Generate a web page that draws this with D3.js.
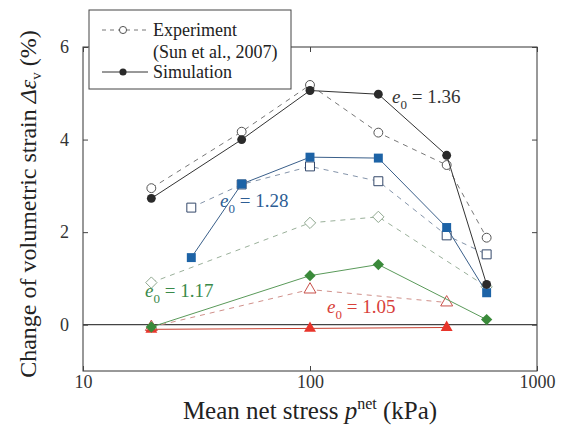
<!DOCTYPE html>
<html>
<head>
<meta charset="utf-8">
<script src="https://cdn.jsdelivr.net/npm/d3@7"></script>
<style>
  body { margin: 0; background: #fff; }
</style>
</head>
<body>
<svg id="chart" width="568" height="428"></svg>
<script>
// e0 = 1.36
const p136 = [20, 50, 100, 200, 400, 600];
const exp136 = [2.95, 4.17, 5.18, 4.15, 3.45, 1.88];
const sim136 = [2.73, 4.0, 5.06, 4.98, 3.66, 0.87];
// e0 = 1.28
const p128 = [30, 50, 100, 200, 400, 600];
const exp128 = [2.53, 3.03, 3.42, 3.1, 1.93, 1.52];
const sim128 = [1.45, 3.04, 3.62, 3.6, 2.1, 0.69];
// e0 = 1.17
const p117 = [20, 100, 200, 600];
const exp117 = [0.91, 2.2, 2.33, 0.82];
const sim117 = [-0.05, 1.06, 1.3, 0.11];
// e0 = 1.05
const p105 = [20, 100, 400];
const exp105 = [-0.05, 0.76, 0.48];
const sim105 = [-0.1, -0.08, -0.06];

const xTicks = [10, 100, 1000];
const yTicks = [0, 2, 4, 6];

const FONT = "'Liberation Serif', 'Times New Roman', serif";

// diamond = square turned 45 degrees
const diamond = {
  draw(ctx, size) {
    const r = Math.sqrt(size / 2);
    ctx.moveTo(0, -r); ctx.lineTo(r, 0); ctx.lineTo(0, r); ctx.lineTo(-r, 0); ctx.closePath();
  },
};

const SERIES = [
  { p: p136, exp: exp136, sim: sim136, shape: d3.symbolCircle, size: 62,
    fill: "#2a2a2a", line: "#333", expLine: "#777", open: "#555",
    label: "1.36", lx: 392, ly: 103, lc: "#333" },
  { p: p128, exp: exp128, sim: sim128, shape: d3.symbolSquare, size: 80,
    fill: "#1d63a6", line: "#3a5f8a", expLine: "#8494aa", open: "#34486a",
    label: "1.28", lx: 220, ly: 207, lc: "#2d5d94" },
  { p: p117, exp: exp117, sim: sim117, shape: diamond, size: 64,
    fill: "#3a8a3a", line: "#5a9a5a", expLine: "#9ab09a", open: "#90a890",
    label: "1.17", lx: 145, ly: 297, lc: "#3a8a4a" },
  { p: p105, exp: exp105, sim: sim105, shape: d3.symbolTriangle, size: 62,
    fill: "#e8352b", line: "#c84030", expLine: "#d0908a", open: "#c8504a",
    label: "1.05", lx: 327, ly: 313, lc: "#d8403a" },
];

const svg = d3.select("#chart").attr("font-family", FONT);
const margin = { left: 83, right: 31, top: 47, bottom: 57 };
const W = 568, H = 428;

const x = d3.scaleLog().domain([10, 1000]).range([margin.left, W - margin.right]);
const y = d3.scaleLinear().domain([-1, 6]).range([H - margin.bottom, margin.top]);

// frame
svg.append("rect")
  .attr("x", x(10)).attr("y", y(6))
  .attr("width", x(1000) - x(10)).attr("height", y(-1) - y(6))
  .attr("fill", "none").attr("stroke", "#333").attr("stroke-width", 1);

// zero line
svg.append("line")
  .attr("x1", x(10)).attr("x2", x(1000)).attr("y1", y(0)).attr("y2", y(0))
  .attr("stroke", "#444").attr("stroke-width", 1.2);

const tickStyle = (g) => {
  g.attr("font-family", FONT);
  g.select(".domain").remove();
  g.selectAll(".tick line").attr("stroke", "#444");
  g.selectAll(".tick text").attr("fill", "#333").attr("font-size", 18);
};

svg.append("g").attr("transform", `translate(0,${y(-1)})`)
  .call(d3.axisBottom(x).tickValues(xTicks).tickFormat(d3.format("d")).tickSizeInner(-5).tickPadding(4))
  .call(tickStyle);
svg.append("g").attr("transform", `translate(0,${y(6)})`)
  .call(d3.axisTop(x).tickValues(xTicks).tickFormat("").tickSizeInner(-5))
  .call(tickStyle);
svg.append("g").attr("transform", `translate(${x(10)},0)`)
  .call(d3.axisLeft(y).tickValues(yTicks).tickFormat(d3.format("d")).tickSizeInner(-5).tickPadding(14))
  .call(tickStyle);
svg.append("g").attr("transform", `translate(${x(1000)},0)`)
  .call(d3.axisRight(y).tickValues(yTicks).tickFormat("").tickSizeInner(-5))
  .call(tickStyle);

const line = d3.line().x((d) => x(d[0])).y((d) => y(d[1]));
const sym = (s, size) => d3.symbol().type(s).size(size)();

// experiments
SERIES.forEach((s) => {
  const pts = s.p.map((p, i) => [p, s.exp[i]]);
  svg.append("path").attr("d", line(pts)).attr("fill", "none")
    .attr("stroke", s.expLine).attr("stroke-width", 1).attr("stroke-dasharray", "5,5");
  svg.selectAll(null).data(pts).join("path")
    .attr("d", sym(s.shape, s.size))
    .attr("transform", (d) => `translate(${x(d[0])},${y(d[1])})`)
    .attr("fill", "#fff").attr("stroke", s.open).attr("stroke-width", 1);
});

// simulations
SERIES.slice().reverse().forEach((s) => {
  const pts = s.p.map((p, i) => [p, s.sim[i]]);
  svg.append("path").attr("d", line(pts)).attr("fill", "none")
    .attr("stroke", s.line).attr("stroke-width", 1);
  svg.selectAll(null).data(pts).join("path")
    .attr("d", sym(s.shape, s.size))
    .attr("transform", (d) => `translate(${x(d[0])},${y(d[1])})`)
    .attr("fill", s.fill).attr("stroke", "none");
});

// e0 labels
SERIES.forEach((s) => {
  const t = svg.append("text").attr("x", s.lx).attr("y", s.ly)
    .attr("font-size", 19).attr("fill", s.lc);
  t.append("tspan").attr("font-style", "italic").text("e");
  t.append("tspan").attr("font-size", 13).attr("dy", 6).text("0");
  t.append("tspan").attr("dy", -6).text(` = ${s.label}`);
});

// legend
const lg = svg.append("g");
lg.append("rect").attr("x", 89).attr("y", 10).attr("width", 202).attr("height", 79)
  .attr("fill", "#fff").attr("stroke", "#444").attr("stroke-width", 1);
lg.append("line").attr("x1", 102).attr("x2", 148).attr("y1", 30).attr("y2", 30)
  .attr("stroke", "#777").attr("stroke-dasharray", "4,4");
lg.append("path").attr("d", sym(d3.symbolCircle, 40)).attr("transform", "translate(123,30)")
  .attr("fill", "#fff").attr("stroke", "#555");
lg.append("line").attr("x1", 102).attr("x2", 148).attr("y1", 72).attr("y2", 72)
  .attr("stroke", "#333");
lg.append("path").attr("d", sym(d3.symbolCircle, 40)).attr("transform", "translate(123,72)")
  .attr("fill", "#2a2a2a");
const legendText = ["Experiment", "(Sun et al., 2007)", "Simulation"];
const legendY = [30, 52, 72];
legendText.forEach((t, i) => {
  lg.append("text").attr("x", 153).attr("y", legendY[i] + 6)
    .attr("font-size", 18).attr("fill", "#222").text(t);
});

// axis titles
const xt = svg.append("text").attr("x", 310).attr("y", 419)
  .attr("text-anchor", "middle").attr("font-size", 25).attr("fill", "#222");
xt.append("tspan").text("Mean net stress ");
xt.append("tspan").attr("font-style", "italic").text("p");
xt.append("tspan").attr("font-size", 16).attr("dy", -10).text("net");
xt.append("tspan").attr("dy", 10).text(" (kPa)");

const yt = svg.append("text").attr("transform", "translate(36,204) rotate(-90)")
  .attr("text-anchor", "middle").attr("font-size", 24).attr("fill", "#222");
yt.append("tspan").text("Change of volumetric strain ");
yt.append("tspan").attr("font-style", "italic").text("Δε");
yt.append("tspan").attr("font-size", 15).attr("dy", 5).text("v");
yt.append("tspan").attr("dy", -5).text(" (%)");
</script>
</body>
</html>
